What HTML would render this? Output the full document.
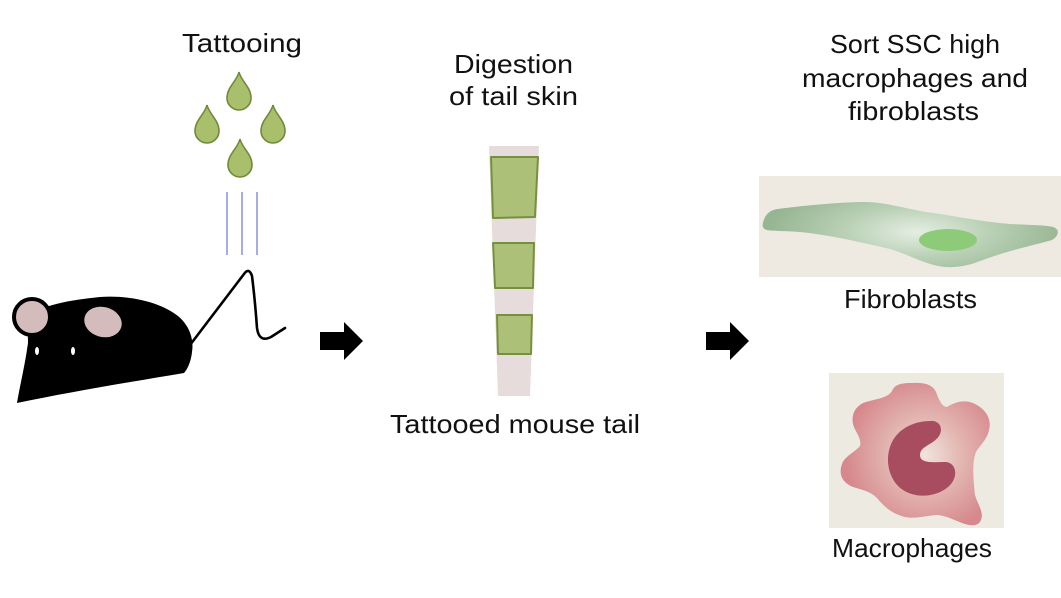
<!DOCTYPE html>
<html><head><meta charset="utf-8"><style>
html,body{margin:0;padding:0;background:#fff;}
svg{display:block;}
text{font-family:"Liberation Sans",sans-serif;fill:#111;font-size:26px;}
</style></head><body>
<svg width="1061" height="598" viewBox="0 0 1061 598" xmlns="http://www.w3.org/2000/svg">
<defs>
<radialGradient id="fg" cx="917" cy="232" r="150" gradientUnits="userSpaceOnUse" gradientTransform="translate(917 232) scale(1 0.35) translate(-917 -232)">
<stop offset="0" stop-color="#e4eee2"/><stop offset="0.5" stop-color="#b8cfb4"/><stop offset="1" stop-color="#96b592"/>
</radialGradient>
<radialGradient id="mg" cx="925" cy="455" r="80" gradientUnits="userSpaceOnUse">
<stop offset="0" stop-color="#f0e4dc"/><stop offset="0.45" stop-color="#e3b7b2"/><stop offset="1" stop-color="#d6888c"/>
</radialGradient>
<path id="drop" d="M0 0 C2 9 12 15 12 26 A12 12 0 0 1 -12 26 C-12 15 -2 9 0 0 Z" fill="#a9bf6c" stroke="#6f8a3b" stroke-width="1.6"/>
</defs>

<!-- Tattooing -->
<text x="182" y="52" textLength="120" lengthAdjust="spacingAndGlyphs">Tattooing</text>
<use href="#drop" x="239" y="72"/>
<use href="#drop" x="207" y="105"/>
<use href="#drop" x="273" y="105"/>
<use href="#drop" x="240" y="139"/>
<g stroke="#7282cf" stroke-width="1.3">
<line x1="227" y1="192" x2="227" y2="255"/>
<line x1="242" y1="192" x2="242" y2="255"/>
<line x1="257" y1="192" x2="257" y2="255"/>
</g>

<!-- Mouse -->
<path d="M190 345 L244 274 Q249 267 252 276 Q255 300 257 328 Q259 343 271 337 L285 328" fill="none" stroke="#000" stroke-width="2.6" stroke-linecap="round" stroke-linejoin="round"/>
<path d="M28 318 C40 305 70 300 100 297 C130 295 160 302 178 316 C190 326 194 340 192 352 C191 362 187 370 184 373 C130 382 70 392 17 403 C20 385 25 365 28 343 C28 333 27 325 28 318 Z" fill="#000"/>
<circle cx="32" cy="317" r="18" fill="#d4bcbc" stroke="#000" stroke-width="4"/>
<ellipse cx="103" cy="322" rx="19" ry="15" transform="rotate(15 103 322)" fill="#d4bcbc"/>
<ellipse cx="37" cy="351" rx="2" ry="4" fill="#fff"/>
<ellipse cx="73" cy="351" rx="2" ry="4" fill="#fff"/>

<!-- Arrows -->
<path d="M320 332 L344 332 L344 322 L363 341 L344 360 L344 350 L320 350 Z" fill="#000"/>
<path d="M706 332 L730 332 L730 322 L749 341 L730 360 L730 350 L706 350 Z" fill="#000"/>

<!-- Tail -->
<text x="454" y="73" textLength="119" lengthAdjust="spacingAndGlyphs">Digestion</text>
<text x="449" y="105" textLength="129" lengthAdjust="spacingAndGlyphs">of tail skin</text>
<path d="M489 146 L539 146 L530 396 L498 396 Z" fill="#e7dcdc"/>
<g fill="#adc077" stroke="#76903e" stroke-width="2" stroke-linejoin="round">
<path d="M491 157 L538 157 L535 217 L493 218 Z"/>
<path d="M493 243 L534 243 L533 288 L495 288 Z"/>
<path d="M497 315 L532 315 L531 354 L498 354 Z"/>
</g>
<text x="390" y="433" textLength="250" lengthAdjust="spacingAndGlyphs">Tattooed mouse tail</text>

<!-- Right column -->
<text x="830" y="53" textLength="170" lengthAdjust="spacingAndGlyphs">Sort SSC high</text>
<text x="802" y="87" textLength="226" lengthAdjust="spacingAndGlyphs">macrophages and</text>
<text x="848" y="120" textLength="131" lengthAdjust="spacingAndGlyphs">fibroblasts</text>

<rect x="759" y="176" width="302" height="101" fill="#eeeae1"/>
<path d="M763 223 C765 214 770 210 778 209 C800 206 840 202 867 202 C890 203 910 210 933 213 C960 217 985 222 1010 224 C1030 225 1045 225 1053 227 C1060 229 1059 236 1052 240 C1035 245 1010 250 983 260 C970 265 958 268 945 267 C925 265 910 255 890 249 C860 242 830 235 800 232 C785 231 772 231 767 230 C763 229 762 226 763 223 Z" fill="url(#fg)"/>
<ellipse cx="948" cy="240" rx="29" ry="11" fill="#8dcb78"/>
<text x="844" y="308" textLength="133" lengthAdjust="spacingAndGlyphs">Fibroblasts</text>

<rect x="829" y="373" width="175" height="155" fill="#edeae2"/>
<path d="M892 391 C895 384 902 383 912 383 C925 382 933 385 936 392 C939 400 942 407 947 407 C955 402 965 399 975 404 C985 409 992 418 989 430 C987 440 980 445 976 452 C972 462 973 478 975 495 C978 505 984 512 981 520 C978 527 970 526 962 523 C952 519 944 515 936 515 C925 516 915 519 905 517 C893 514 885 508 877 498 C870 491 862 490 853 487 C843 483 838 475 842 464 C845 456 855 452 860 446 C862 438 855 432 853 424 C851 414 856 405 866 402 C876 399 888 398 892 391 Z" fill="url(#mg)"/>
<path d="M930 421 C939 420 944 428 939 436 C933 445 920 446 920 455 C920 464 934 462 945 462 C955 462 959 474 951 484 C941 496 918 500 903 490 C888 480 884 458 892 442 C899 428 915 421 930 421 Z" fill="#a84d60"/>
<text x="832" y="557" textLength="160" lengthAdjust="spacingAndGlyphs">Macrophages</text>
</svg>
</body></html>
